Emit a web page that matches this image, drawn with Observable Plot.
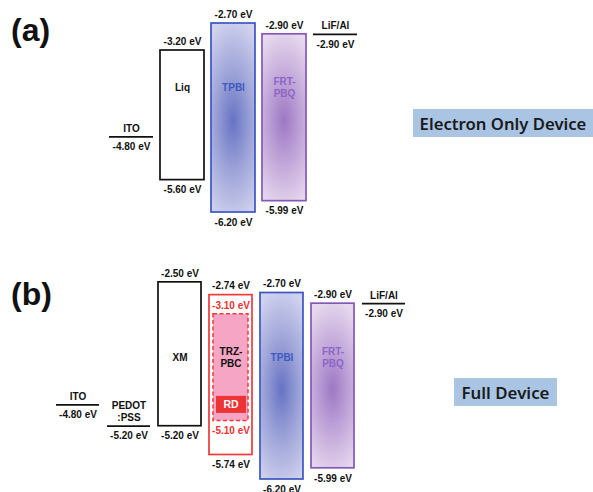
<!DOCTYPE html>
<html>
<head>
<meta charset="utf-8">
<script src="https://cdn.jsdelivr.net/npm/d3@7"></script>
<script src="https://cdn.jsdelivr.net/npm/@observablehq/plot@0.6"></script>
<style>
  html, body { margin: 0; padding: 0; background: #fff; }
  #wrap { position: relative; width: 593px; height: 492px; overflow: hidden; font-family: "Liberation Sans", Arial, sans-serif; }
  .panel { position: absolute; left: 0; }
  .tag { position: absolute; left: 11px; font-family: "Liberation Sans", Arial, sans-serif; font-weight: bold; font-size: 32px; line-height: 32px; color: #111; }
  .dev { position: absolute; background: #a9c5e3; display: flex; align-items: center; justify-content: center; font-family: "Noto Sans", sans-serif; font-weight: 600; color: #1a1a1a; white-space: nowrap; }
</style>
</head>
<body>
<svg width="0" height="0" style="position:absolute">
  <defs>
    <radialGradient id="tpbiGrad" cx="0.5" cy="0.52" r="0.55" gradientTransform="translate(0.5 0.52) scale(1.6 1) translate(-0.5 -0.52)">
      <stop offset="0" stop-color="#6773c3"/>
      <stop offset="0.45" stop-color="#9aa1d7"/>
      <stop offset="1" stop-color="#d0d2ee"/>
    </radialGradient>
    <radialGradient id="frtGrad" cx="0.5" cy="0.52" r="0.55" gradientTransform="translate(0.5 0.52) scale(1.6 1) translate(-0.5 -0.52)">
      <stop offset="0" stop-color="#9e78c4"/>
      <stop offset="0.45" stop-color="#bfa4d8"/>
      <stop offset="1" stop-color="#e8d9ee"/>
    </radialGradient>
  </defs>
</svg>
<div id="wrap">
  <div id="pa" class="panel" style="top:0"></div>
  <div id="pb" class="panel" style="top:240px"></div>
  <div class="tag" style="top:14px">(a)</div>
  <div class="tag" style="top:278px">(b)</div>
  <div id="devA" class="dev" style="left:413px; top:109px; width:180px; height:28px;">Electron Only Device</div>
  <div id="devB" class="dev" style="left:454px; top:378px; width:103px; height:28px;">Full Device</div>
</div>
<script>
// ---------- Panel (a): Electron only device ----------
const A_order = ["ITO", "Liq", "TPBI", "FRT-PBQ", "LiF/Al"];
const A_elecNames = ["ITO", "LiF/Al"];
const A_elecLevels = [-4.80, -2.90];
const A_layerNames = ["Liq", "TPBI", "FRT-PBQ"];
const A_lumo = [-3.20, -2.70, -2.90];
const A_homo = [-5.60, -6.20, -5.99];
const A_nameLevel = -3.88;

// ---------- Panel (b): Full device ----------
const B_order = ["ITO", "PEDOT:PSS", "XM", "TRZ-PBC", "TPBI", "FRT-PBQ", "LiF/Al"];
const B_elecNames = ["ITO", "PEDOT:PSS", "LiF/Al"];
const B_elecLevels = [-4.80, -5.20, -2.90];
const B_layerNames = ["XM", "TRZ-PBC", "TPBI", "FRT-PBQ"];
const B_lumo = [-2.50, -2.74, -2.70, -2.90];
const B_homo = [-5.20, -5.74, -6.20, -5.99];
const B_hostNames = ["TRZ-PBC"];
const B_hostLumo = [-3.10];
const B_hostHomo = [-5.10];
const B_dopantNames = ["RD"];
const B_dopantHost = ["TRZ-PBC"];
const B_dopantTop = [-4.64];
const B_dopantBottom = [-4.96];
const B_nameLevel = -3.91;

const displayName = {"FRT-PBQ": "FRT-\nPBQ", "TRZ-PBC": "TRZ-\nPBC", "PEDOT:PSS": "PEDOT\n:PSS"};
const fmt = v => v.toFixed(2) + " eV";

const styleOf = name => {
  if (name === "TPBI") return {fill: "url(#tpbiGrad)", stroke: "#3d56c2", text: "#4259c2"};
  if (name === "FRT-PBQ") return {fill: "url(#frtGrad)", stroke: "#8458b6", text: "#8c66c6"};
  if (name === "TRZ-PBC") return {fill: "#ffffff", stroke: "#ee3a3a", text: "#111"};
  return {fill: "#ffffff", stroke: "#111", text: "#111"};
};

function panel(cfg) {
  const elecs = cfg.elecNames.map((n, i) => ({name: n, level: cfg.elecLevels[i]}));
  const layers = cfg.layerNames.map((n, i) => ({name: n, lumo: cfg.lumo[i], homo: cfg.homo[i]}));
  const hosts = (cfg.hostNames || []).map((n, i) => ({name: n, lumo: cfg.hostLumo[i], homo: cfg.hostHomo[i]}));
  const dopants = (cfg.dopantNames || []).map((n, i) => ({label: n, name: cfg.dopantHost[i], top: cfg.dopantTop[i], bottom: cfg.dopantBottom[i]}));
  const txt = {fontSize: 10, fontWeight: "bold"};
  const marks = [];
  for (const l of layers) {
    const s = styleOf(l.name);
    marks.push(Plot.barY([l], {x: "name", y1: "lumo", y2: "homo", fill: s.fill, stroke: s.stroke, strokeWidth: 1.7}));
  }
  marks.push(Plot.barY(hosts, {x: "name", y1: "lumo", y2: "homo", insetLeft: 4, insetRight: 4, fill: "#f6a6c4", stroke: "#ee3a3a", strokeWidth: 1.5, strokeDasharray: "4,2.5"}));
  marks.push(Plot.barY(dopants, {x: "name", y1: "top", y2: "bottom", insetLeft: 7, insetRight: 6, fill: "#ec3434"}));
  marks.push(Plot.text(dopants, {x: "name", y: d => (d.top + d.bottom) / 2, text: "label", fill: "#fff", ...txt, fontSize: 10.5}));
  // layer names
  for (const l of layers) {
    const s = styleOf(l.name);
    marks.push(Plot.text([l], {x: "name", y: () => cfg.nameLevel, text: d => displayName[d.name] || d.name, fill: s.text, lineHeight: 1.15, ...txt}));
  }
  // LUMO / HOMO values
  marks.push(Plot.text(layers, {x: "name", y: "lumo", text: d => fmt(d.lumo), dy: -9, fill: "#111", ...txt}));
  marks.push(Plot.text(layers, {x: "name", y: "homo", text: d => fmt(d.homo), dy: 10, fill: "#111", ...txt}));
  marks.push(Plot.text(hosts, {x: "name", y: "lumo", text: d => fmt(d.lumo), dy: -9, fill: "#ee3030", ...txt}));
  marks.push(Plot.text(hosts, {x: "name", y: "homo", text: d => fmt(d.homo), dy: 10, fill: "#ee3030", ...txt}));
  // electrodes
  marks.push(Plot.tickY(elecs, {x: "name", y: "level", stroke: "#111", strokeWidth: 1.8}));
  marks.push(Plot.text(elecs, {x: "name", y: "level", text: d => displayName[d.name] || d.name, lineAnchor: "bottom", dy: -5, lineHeight: 1.2, fill: "#111", ...txt}));
  marks.push(Plot.text(elecs, {x: "name", y: "level", text: d => fmt(d.level), dy: 10, fill: "#111", ...txt}));

  return Plot.plot({
    width: 593,
    height: cfg.height,
    margin: 0,
    style: {fontFamily: "'Liberation Sans', Arial, sans-serif", background: "transparent", overflow: "visible"},
    x: {type: "band", domain: cfg.order, range: cfg.xRange, paddingInner: cfg.pad, paddingOuter: 0, axis: null},
    y: {domain: [-2.70, -6.20], range: cfg.yRange, axis: null},
    marks
  });
}

document.getElementById("pa").appendChild(panel({
  order: A_order, elecNames: A_elecNames, elecLevels: A_elecLevels,
  layerNames: A_layerNames, lumo: A_lumo, homo: A_homo, nameLevel: A_nameLevel,
  height: 240, xRange: [108, 357], pad: 0.141, yRange: [23, 212]
}));
const pb = panel({
  order: B_order, elecNames: B_elecNames, elecLevels: B_elecLevels,
  layerNames: B_layerNames, lumo: B_lumo, homo: B_homo, nameLevel: B_nameLevel,
  hostNames: B_hostNames, hostLumo: B_hostLumo, hostHomo: B_hostHomo,
  dopantNames: B_dopantNames, dopantHost: B_dopantHost, dopantTop: B_dopantTop, dopantBottom: B_dopantBottom,
  height: 252, xRange: [54, 408], pad: 0.148, yRange: [52.5, 239]
});
pb.style.overflow = "hidden";
document.getElementById("pb").appendChild(pb);

// fit device label text widths
const ctx = document.createElement("canvas").getContext("2d");
function fit(id, target) {
  const el = document.getElementById(id);
  ctx.font = "600 16px 'Noto Sans'";
  const w = ctx.measureText(el.textContent).width;
  el.style.fontSize = (16 * target / w).toFixed(2) + "px";
}
fit("devA", 167);
fit("devB", 88);
</script>
</body>
</html>
